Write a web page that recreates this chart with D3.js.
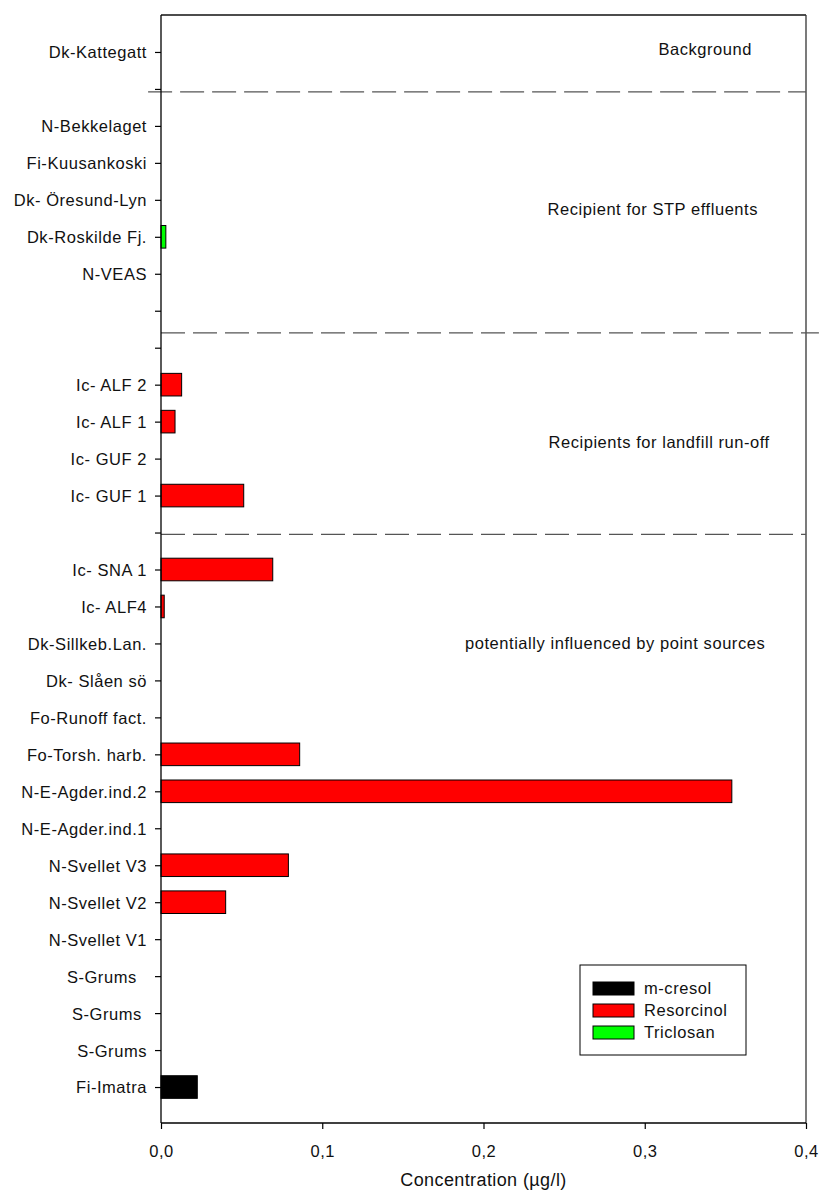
<!DOCTYPE html>
<html>
<head>
<meta charset="utf-8">
<script src="https://cdn.jsdelivr.net/npm/d3@7"></script>
<style>
  html, body { margin: 0; padding: 0; background: #fff; }
  svg text { font-family: "Liberation Sans", Arial, Helvetica, sans-serif; fill: #111; }
</style>
</head>
<body>
<svg id="chart" width="819" height="1200"></svg>
<script>
// ---- data ----
const categories = [
  "Dk-Kattegatt", "", "N-Bekkelaget", "Fi-Kuusankoski", "Dk- Öresund-Lyn",
  "Dk-Roskilde Fj.", "N-VEAS", "", "", "Ic- ALF 2", "Ic- ALF 1", "Ic- GUF 2",
  "Ic- GUF 1", "", "Ic- SNA 1", "Ic- ALF4", "Dk-Sillkeb.Lan.", "Dk- Slåen sö",
  "Fo-Runoff fact.", "Fo-Torsh. harb.", "N-E-Agder.ind.2", "N-E-Agder.ind.1",
  "N-Svellet V3", "N-Svellet V2", "N-Svellet V1", "S-Grums  ", "S-Grums ",
  "S-Grums", "Fi-Imatra"
];
const mCresol = [null,null,null,null,null,null,null,null,null,null,null,null,null,null,null,null,null,null,null,null,null,null,null,null,null,null,null,null,0.0225];
const resorcinol = [null,null,null,null,null,null,null,null,null,0.0128,0.0087,null,0.0513,null,0.0693,0.002,null,null,null,0.086,0.354,null,0.079,0.0401,null,null,null,null,null];
const triclosan = [null,null,null,null,null,0.003,null,null,null,null,null,null,null,null,null,null,null,null,null,null,null,null,null,null,null,null,null,null,null];
const seriesNames = ["m-cresol", "Resorcinol", "Triclosan"];
const seriesColors = ["#000000", "#ff0000", "#00ff00"];
const xTicks = [0, 0.1, 0.2, 0.3, 0.4];
const xLabel = "Concentration (µg/l)";
// group separators: [row position, x start, x end]
const sepRow = [1.08, 7.6, 13.05];
const sepX0 = [-0.008, 0, 0];
const sepX1 = [0.4, 0.408, 0.4];
// group annotations
const groupLabels = ["Background", "Recipient for STP effluents", "Recipients for landfill run-off", "potentially influenced by point sources"];
const groupLabelX = [0.3085, 0.2397, 0.2403, 0.1885];
const groupLabelRow = [-0.08, 4.25, 10.55, 15.98];

// ---- layout ----
const svg = d3.select("#chart");
const L = 161, R = 806, T = 15, B = 1123;
const x = d3.scaleLinear().domain([0, 0.4]).range([L, R]);
const y = d3.scaleLinear().domain([-1, 29]).range([T, B + 1]);
const barH = 22.6;
const fontSz = "16.5px";
const ls = "0.55px";
const locale = d3.formatLocale({decimal: ",", thousands: ".", grouping: [3], currency: ["", ""]});
const fmt = locale.format(".1f");

// frame (top & right)
svg.append("line").attr("x1", L).attr("x2", R).attr("y1", T).attr("y2", T)
  .attr("stroke", "#111").attr("stroke-width", 1.3);
svg.append("line").attr("x1", R).attr("x2", R).attr("y1", T).attr("y2", B)
  .attr("stroke", "#333").attr("stroke-width", 1.3);

// separators
sepRow.forEach((r, i) => {
  svg.append("line")
    .attr("x1", x(sepX0[i])).attr("x2", x(sepX1[i]))
    .attr("y1", y(r)).attr("y2", y(r))
    .attr("stroke", "#555").attr("stroke-width", 1.3)
    .attr("stroke-dasharray", "24,8");
});

// bars
const allSeries = [mCresol, resorcinol, triclosan];
allSeries.forEach((vals, si) => {
  svg.append("g").selectAll("rect")
    .data(vals.map((v, i) => ({v, i})).filter(d => d.v != null))
    .join("rect")
    .attr("x", x(0))
    .attr("y", d => y(d.i) - barH / 2)
    .attr("width", d => x(d.v) - x(0))
    .attr("height", barH)
    .attr("fill", seriesColors[si])
    .attr("stroke", "#000")
    .attr("stroke-width", 1);
});

// y axis
const yAxis = svg.append("g").attr("transform", `translate(${L},0)`)
  .call(d3.axisLeft(y).tickValues(d3.range(categories.length))
    .tickFormat(i => categories[i]).tickSize(6).tickPadding(8).tickSizeOuter(0));
yAxis.select(".domain").remove();
yAxis.append("line").attr("x1", 0).attr("x2", 0).attr("y1", T).attr("y2", B)
  .attr("stroke", "#000").attr("stroke-width", 1.3);
yAxis.selectAll(".tick line").attr("stroke", "#000").attr("stroke-width", 1.2);
yAxis.selectAll(".tick text")
  .style("font-size", fontSz).style("letter-spacing", ls)
  .style("white-space", "pre").attr("fill", "#111").attr("dy", "0.36em");

// x axis
const xAxis = svg.append("g").attr("transform", `translate(0,${B})`)
  .call(d3.axisBottom(x).tickValues(xTicks).tickFormat(fmt).tickSize(6).tickPadding(16).tickSizeOuter(0));
xAxis.select(".domain").remove();
xAxis.append("line").attr("x1", L).attr("x2", R).attr("y1", 0).attr("y2", 0)
  .attr("stroke", "#000").attr("stroke-width", 1.3);
xAxis.selectAll(".tick line").attr("stroke", "#000").attr("stroke-width", 1.2);
xAxis.selectAll(".tick text").style("font-size", fontSz).style("letter-spacing", ls).attr("fill", "#111");

// x label
svg.append("text").attr("x", (L + R) / 2).attr("y", 1186)
  .attr("text-anchor", "middle").style("font-size", "18px").style("letter-spacing", "0.4px")
  .text(xLabel);

// group annotations
groupLabels.forEach((t, i) => {
  svg.append("text").attr("x", x(groupLabelX[i])).attr("y", y(groupLabelRow[i]))
    .attr("dy", "0.36em").style("font-size", fontSz).style("letter-spacing", ls).text(t);
});

// legend
const lg = svg.append("g");
lg.append("rect").attr("x", 580).attr("y", 965).attr("width", 166).attr("height", 90)
  .attr("fill", "#fff").attr("stroke", "#000").attr("stroke-width", 1);
seriesNames.forEach((n, i) => {
  const yy = 982 + i * 22;
  lg.append("rect").attr("x", 593).attr("y", yy).attr("width", 41).attr("height", 13)
    .attr("fill", seriesColors[i]).attr("stroke", "#000").attr("stroke-width", 1);
  lg.append("text").attr("x", 644).attr("y", yy + 6.5).attr("dy", "0.36em")
    .style("font-size", fontSz).style("letter-spacing", ls).text(n);
});
</script>
</body>
</html>
